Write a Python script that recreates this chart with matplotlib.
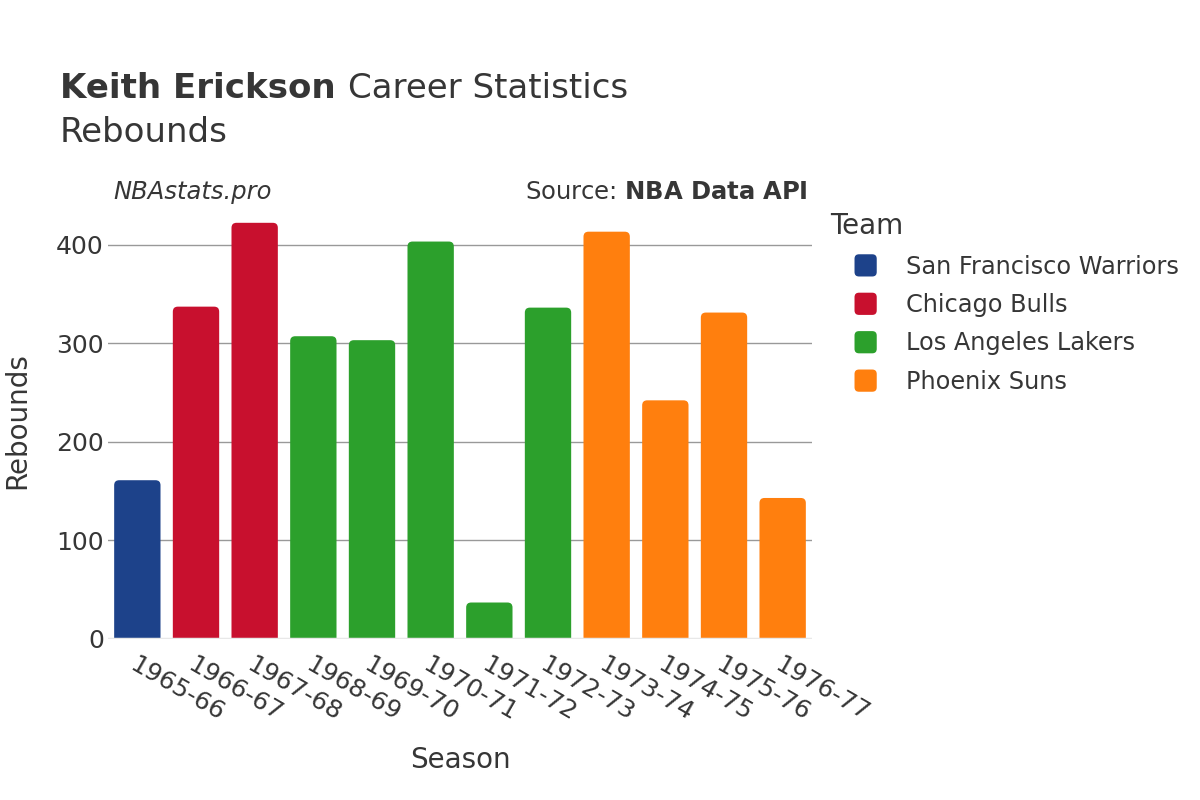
import matplotlib
matplotlib.use("Agg")
import matplotlib.pyplot as plt
from matplotlib.patches import FancyBboxPatch, Patch
from matplotlib.legend_handler import HandlerPatch

plt.rcParams['font.family'] = ['DejaVu Sans']

seasons = ["1965-66", "1966-67", "1967-68", "1968-69", "1969-70", "1970-71",
           "1971-72", "1972-73", "1973-74", "1974-75", "1975-76", "1976-77"]
rebounds = [161, 337, 422, 307, 303, 403, 37, 336, 413, 242, 331, 143]
teams = ["San Francisco Warriors", "Chicago Bulls", "Chicago Bulls",
         "Los Angeles Lakers", "Los Angeles Lakers", "Los Angeles Lakers",
         "Los Angeles Lakers", "Los Angeles Lakers", "Phoenix Suns",
         "Phoenix Suns", "Phoenix Suns", "Phoenix Suns"]
team_order = ["San Francisco Warriors", "Chicago Bulls", "Los Angeles Lakers", "Phoenix Suns"]
team_colors = {"San Francisco Warriors": "#1d428a", "Chicago Bulls": "#c8102e",
               "Los Angeles Lakers": "#2ca02c", "Phoenix Suns": "#ff7f0e"}

TXT = "#363636"
W, H = 1200, 800
fig = plt.figure(figsize=(12, 8), dpi=100)
ax = fig.add_axes([108 / W, 161 / H, 704 / W, 437 / H])

xs = list(range(len(seasons)))
ymax = max(rebounds) * 1.05
ax.set_xlim(-0.5, len(seasons) - 0.5)
ax.set_ylim(0, ymax)

bars = ax.bar(xs, rebounds, width=0.79, color=[team_colors[t] for t in teams])
# rounded tops
fig.canvas.draw()
px_per_x = ax.get_window_extent().width / len(seasons)
px_per_y = ax.get_window_extent().height / ymax
r_px = 5.0
rx = r_px / px_per_x
ry = r_px / px_per_y
for b in bars:
    b.set_visible(False)
    x0, w, h = b.get_x(), b.get_width(), b.get_height()
    p = FancyBboxPatch((x0, -2 * ry), w, h + 2 * ry,
                       boxstyle=f"round,pad=0,rounding_size={rx}",
                       mutation_aspect=ry / rx,
                       facecolor=b.get_facecolor(), edgecolor="none",
                       clip_on=True, zorder=2)
    ax.add_patch(p)

ax.set_yticks([0, 100, 200, 300, 400])
ax.yaxis.grid(True, color="#999999", linewidth=1)
ax.set_axisbelow(True)
ax.axhline(0, color="#e8e8e8", linewidth=2.5, zorder=3)
for s in ax.spines.values():
    s.set_visible(False)
ax.tick_params(axis='both', length=0, labelsize=18, labelcolor=TXT)
ax.tick_params(axis='y', pad=3)
ax.set_xticks(xs)
ax.set_xticklabels(seasons, rotation=-30, ha='left', va='top', rotation_mode='anchor')
ax.tick_params(axis='x', pad=10)

ax.set_xlabel("Season", fontsize=20, color=TXT)
ax.set_ylabel("Rebounds", fontsize=20, color=TXT)
ax.xaxis.set_label_coords(0.5, -(760 - 639) / 437, transform=ax.transAxes)
ax.yaxis.set_label_coords(-(108 - 17) / 704, 0.5)
ax.xaxis.label.set_va('center')
ax.yaxis.label.set_va('center')

t1 = fig.text(60 / W, 1 - 89 / H, "Keith Erickson", fontsize=24.5, fontweight='bold',
              color=TXT, va='center', ha='left')
fig.canvas.draw()
bb = t1.get_window_extent()
fig.text((bb.x1 + 12) / W, 1 - 89 / H, "Career Statistics", fontsize=24.5,
         color=TXT, va='center', ha='left')
fig.text(60 / W, 1 - 132 / H, "Rebounds", fontsize=24.5, color=TXT, va='center', ha='left')

fig.text(113 / W, 1 - 192 / H, "NBAstats.pro", fontsize=17.5, style='italic',
         color=TXT, va='center', ha='left')
fig.text(808 / W, 1 - 192 / H, r"Source: $\bf{NBA\ Data\ API}$", fontsize=17.5,
         color=TXT, va='center', ha='right')

fig.text(830 / W, 1 - 226 / H, "Team", fontsize=20, color=TXT, va='center', ha='left')


class RoundHandler(HandlerPatch):
    def create_artists(self, legend, orig_handle, xdescent, ydescent, width, height, fontsize, trans):
        s = 16
        cx = -xdescent + width / 2
        cy = -ydescent + height / 2
        p = FancyBboxPatch((cx - s / 2, cy - s / 2), s, s,
                           boxstyle=f"round,pad=0,rounding_size={s*0.2}",
                           facecolor=orig_handle.get_facecolor(), edgecolor="none",
                           transform=trans)
        return [p]


handles = [Patch(facecolor=team_colors[t], label=t) for t in team_order]
leg = fig.legend(handles=handles, loc='upper left', bbox_to_anchor=(844 / W, 1 - 245 / H),
                 frameon=False, fontsize=17.3,
                 handler_map={Patch: RoundHandler()}, handlelength=1.0, handleheight=1.0,
                 handletextpad=1.2, labelspacing=0.6, borderaxespad=0, borderpad=0.4)
for t in leg.get_texts():
    t.set_color(TXT)

fig.savefig("out.png", dpi=100, facecolor="white")
